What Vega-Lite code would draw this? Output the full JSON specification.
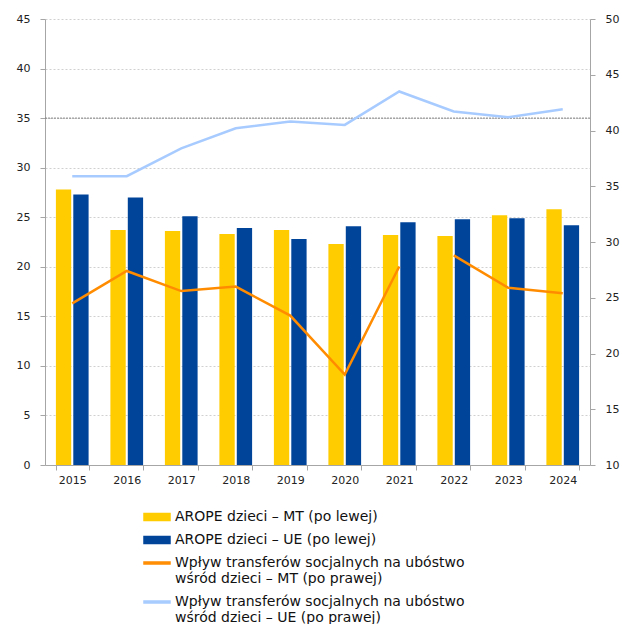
{
  "$schema": "https://vega.github.io/schema/vega-lite/v6.json",
  "width": 545,
  "height": 446,
  "autosize": {"type": "none"},
  "padding": {"left": 45, "top": 19, "right": 32, "bottom": 159},
  "background": "white",
  "datasets": {
    "bars": [
      {"year": "2015", "series": "AROPE dzieci – MT (po lewej)", "value": 27.8},
      {"year": "2015", "series": "AROPE dzieci – UE (po lewej)", "value": 27.3},
      {"year": "2016", "series": "AROPE dzieci – MT (po lewej)", "value": 23.7},
      {"year": "2016", "series": "AROPE dzieci – UE (po lewej)", "value": 27.0},
      {"year": "2017", "series": "AROPE dzieci – MT (po lewej)", "value": 23.6},
      {"year": "2017", "series": "AROPE dzieci – UE (po lewej)", "value": 25.1},
      {"year": "2018", "series": "AROPE dzieci – MT (po lewej)", "value": 23.3},
      {"year": "2018", "series": "AROPE dzieci – UE (po lewej)", "value": 23.9},
      {"year": "2019", "series": "AROPE dzieci – MT (po lewej)", "value": 23.7},
      {"year": "2019", "series": "AROPE dzieci – UE (po lewej)", "value": 22.8},
      {"year": "2020", "series": "AROPE dzieci – MT (po lewej)", "value": 22.3},
      {"year": "2020", "series": "AROPE dzieci – UE (po lewej)", "value": 24.1},
      {"year": "2021", "series": "AROPE dzieci – MT (po lewej)", "value": 23.2},
      {"year": "2021", "series": "AROPE dzieci – UE (po lewej)", "value": 24.5},
      {"year": "2022", "series": "AROPE dzieci – MT (po lewej)", "value": 23.1},
      {"year": "2022", "series": "AROPE dzieci – UE (po lewej)", "value": 24.8},
      {"year": "2023", "series": "AROPE dzieci – MT (po lewej)", "value": 25.2},
      {"year": "2023", "series": "AROPE dzieci – UE (po lewej)", "value": 24.9},
      {"year": "2024", "series": "AROPE dzieci – MT (po lewej)", "value": 25.8},
      {"year": "2024", "series": "AROPE dzieci – UE (po lewej)", "value": 24.2}
    ],
    "lines": [
      {"year": "2015", "series": "Wpływ transferów socjalnych na ubóstwo|wśród dzieci – MT (po prawej)", "value": 24.5, "seg": "a"},
      {"year": "2016", "series": "Wpływ transferów socjalnych na ubóstwo|wśród dzieci – MT (po prawej)", "value": 27.4, "seg": "a"},
      {"year": "2017", "series": "Wpływ transferów socjalnych na ubóstwo|wśród dzieci – MT (po prawej)", "value": 25.6, "seg": "a"},
      {"year": "2018", "series": "Wpływ transferów socjalnych na ubóstwo|wśród dzieci – MT (po prawej)", "value": 26.0, "seg": "a"},
      {"year": "2019", "series": "Wpływ transferów socjalnych na ubóstwo|wśród dzieci – MT (po prawej)", "value": 23.4, "seg": "a"},
      {"year": "2020", "series": "Wpływ transferów socjalnych na ubóstwo|wśród dzieci – MT (po prawej)", "value": 18.1, "seg": "a"},
      {"year": "2021", "series": "Wpływ transferów socjalnych na ubóstwo|wśród dzieci – MT (po prawej)", "value": 27.8, "seg": "a"},
      {"year": "2022", "series": "Wpływ transferów socjalnych na ubóstwo|wśród dzieci – MT (po prawej)", "value": 28.8, "seg": "b"},
      {"year": "2023", "series": "Wpływ transferów socjalnych na ubóstwo|wśród dzieci – MT (po prawej)", "value": 25.9, "seg": "b"},
      {"year": "2024", "series": "Wpływ transferów socjalnych na ubóstwo|wśród dzieci – MT (po prawej)", "value": 25.4, "seg": "b"},
      {"year": "2015", "series": "Wpływ transferów socjalnych na ubóstwo|wśród dzieci – UE (po prawej)", "value": 35.9, "seg": "c"},
      {"year": "2016", "series": "Wpływ transferów socjalnych na ubóstwo|wśród dzieci – UE (po prawej)", "value": 35.9, "seg": "c"},
      {"year": "2017", "series": "Wpływ transferów socjalnych na ubóstwo|wśród dzieci – UE (po prawej)", "value": 38.4, "seg": "c"},
      {"year": "2018", "series": "Wpływ transferów socjalnych na ubóstwo|wśród dzieci – UE (po prawej)", "value": 40.2, "seg": "c"},
      {"year": "2019", "series": "Wpływ transferów socjalnych na ubóstwo|wśród dzieci – UE (po prawej)", "value": 40.8, "seg": "c"},
      {"year": "2020", "series": "Wpływ transferów socjalnych na ubóstwo|wśród dzieci – UE (po prawej)", "value": 40.5, "seg": "c"},
      {"year": "2021", "series": "Wpływ transferów socjalnych na ubóstwo|wśród dzieci – UE (po prawej)", "value": 43.5, "seg": "c"},
      {"year": "2022", "series": "Wpływ transferów socjalnych na ubóstwo|wśród dzieci – UE (po prawej)", "value": 41.7, "seg": "c"},
      {"year": "2023", "series": "Wpływ transferów socjalnych na ubóstwo|wśród dzieci – UE (po prawej)", "value": 41.2, "seg": "c"},
      {"year": "2024", "series": "Wpływ transferów socjalnych na ubóstwo|wśród dzieci – UE (po prawej)", "value": 41.9, "seg": "c"}
    ]
  },
  "layer": [
    {
      "layer": [
        {
          "data": {"name": "bars"},
          "mark": {"type": "bar"},
          "encoding": {
            "x": {
              "field": "year",
              "type": "nominal",
              "scale": {"paddingInner": 0.4, "paddingOuter": 0.2},
              "axis": {
                "title": null,
                "labelAngle": 0,
                "tickBand": "extent",
                "tickSize": 5,
                "labelPadding": 4,
                "domainColor": "#a6a6a6",
                "tickColor": "#a6a6a6",
                "grid": false
              }
            },
            "xOffset": {"field": "series", "type": "nominal", "scale": {"paddingInner": 0.12}},
            "y": {
              "field": "value",
              "type": "quantitative",
              "scale": {"domain": [0, 45], "nice": false, "zero": true},
              "axis": {
                "title": null,
                "values": [0, 5, 10, 15, 20, 25, 30, 35, 40, 45],
                "grid": true,
                "gridColor": "#d0d0d0",
                "gridDash": [2, 2],
                "tickSize": 5,
                "labelPadding": 10,
                "domainColor": "#a6a6a6",
                "tickColor": "#a6a6a6"
              }
            },
            "color": {
              "field": "series",
              "type": "nominal",
              "scale": {
                "domain": [
                  "AROPE dzieci – MT (po lewej)",
                  "AROPE dzieci – UE (po lewej)",
                  "Wpływ transferów socjalnych na ubóstwo|wśród dzieci – MT (po prawej)",
                  "Wpływ transferów socjalnych na ubóstwo|wśród dzieci – UE (po prawej)"
                ],
                "range": ["#FFCC00", "#00449A", "#FF8C00", "#A8CBFF"]
              },
              "legend": {
                "title": null,
                "orient": "none",
                "legendX": 98,
                "legendY": 484,
                "direction": "vertical",
                "padding": 0,
                "labelFont": "DejaVu Sans",
                "labelFontSize": 14,
                "labelColor": "#111111",
                "labelLimit": 450,
                "labelOffset": 4,
                "rowPadding": 2,
                "symbolSize": 676,
                "labelExpr": "split(datum.label, '|')",
                "encode": {
                  "symbols": {
                    "update": {
                      "shape": {"signal": "indexof(datum.value, 'AROPE') === 0 ? 'M-1,-0.27H1V0.27H-1Z' : 'M-1,-0.07H1V0.07H-1Z'"},
                      "fill": {"scale": "color", "field": "value"},
                      "stroke": {"value": "transparent"},
                      "opacity": {"value": 1}
                    }
                  }
                }
              }
            }
          }
        },
        {
          "data": {"values": [{"v": 35}]},
          "mark": {"type": "rule", "color": "#808080", "strokeDash": [2, 1], "strokeWidth": 1},
          "encoding": {"y": {"datum": 35, "type": "quantitative"}}
        }
      ]
    },
    {
      "data": {"name": "lines"},
      "mark": {"type": "line", "strokeWidth": 2.5},
      "encoding": {
        "x": {"field": "year", "type": "nominal"},
        "y": {
          "field": "value",
          "type": "quantitative",
          "scale": {"domain": [10, 50], "nice": false, "zero": false},
          "axis": {
            "title": null,
            "orient": "right",
            "values": [10, 15, 20, 25, 30, 35, 40, 45, 50],
            "grid": false,
            "tickSize": 5,
            "labelPadding": 10,
            "domainColor": "#a6a6a6",
            "tickColor": "#a6a6a6"
          }
        },
        "color": {"field": "series", "type": "nominal"},
        "detail": {"field": "seg", "type": "nominal"}
      }
    }
  ],
  "resolve": {"scale": {"y": "independent"}},
  "config": {
    "view": {"stroke": null},
    "style": {"guide-label": {"lineHeight": 16}},
    "axis": {
      "labelFont": "DejaVu Sans",
      "labelFontSize": 11,
      "labelColor": "#222222",
      "domainWidth": 1
    }
  }
}
